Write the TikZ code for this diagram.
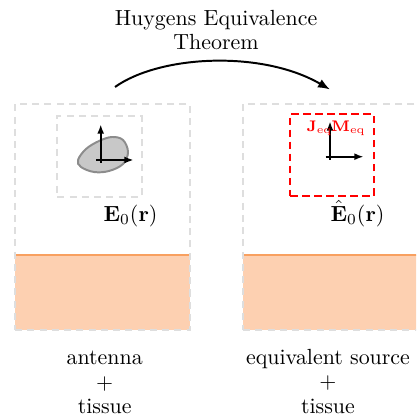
\documentclass[tikz,border=0pt]{standalone}
\usetikzlibrary{arrows.meta}
\definecolor{boxgray}{RGB}{222,222,222}
\definecolor{tissuefill}{RGB}{253,208,177}
\definecolor{tissueline}{RGB}{248,160,96}
\definecolor{blobfill}{RGB}{200,200,200}
\definecolor{blobline}{RGB}{140,140,140}
\begin{document}
\begin{tikzpicture}[x=0.4566pt,y=-0.4566pt,
  txt/.style={font=\fontsize{10}{11.3}\selectfont, inner sep=0pt, align=center},
  outerbox/.style={draw=boxgray, line width=0.9pt, dash pattern=on 3.2pt off 2.4pt, minimum width=79.9pt, minimum height=103.2pt, inner sep=0pt},
  tissue/.style={fill=tissuefill, minimum width=79.9pt, minimum height=34.2pt, inner sep=0pt},
  innerbox/.style={draw=boxgray, line width=0.9pt, dash pattern=on 3.2pt off 2.4pt, minimum width=38.5pt, minimum height=36.8pt, inner sep=0pt},
  eqbox/.style={draw=red, line width=0.9pt, dash pattern=on 3.5pt off 2pt, minimum width=38.4pt, minimum height=37.2pt, inner sep=0pt},
  axis/.style={line width=0.75pt, -{Latex[length=4.2pt,width=3.2pt]}},
  bigarrow/.style={line width=0.9pt, -{Latex[length=5.5pt,width=4.2pt]}},
  srclabel/.style={text=red, font=\scriptsize, inner sep=0pt}
]
\useasboundingbox (0,0) rectangle (416,417);
\clip (0,0) rectangle (416,417);

% title and transform arrow
\node[txt] (title) at (216,30) {Huygens Equivalence\\Theorem};
\coordinate (arrS) at (115,87);
\coordinate (arrE) at (330,89.5);
\draw[bigarrow] (arrS) .. controls (160,55) and (262,50) .. (arrE);

% left panel
\node[tissue] (tisL) at (102.5,292.5) {};
\draw[tissueline, line width=0.9pt] (tisL.north west) -- (tisL.north east);
\node[outerbox] (boxL) at (102.5,217) {};
\node[innerbox] (antbox) at (99.5,156.4) {};
\draw[fill=blobfill, draw=blobline, line width=0.9pt] plot[smooth cycle, tension=0.6] coordinates
  {(78,160) (86,149) (99,141) (112,137) (123,140) (128,152) (123,164) (109,171) (94,172) (81,167)};
\coordinate (oL) at (100.7,160);
\coordinate (vL) at (100.7,124.5);
\coordinate (hL) at (133.5,160);
\draw[axis] ([yshift=-1.3pt]oL) -- (vL);
\draw[axis] ([xshift=-2pt]oL) -- (hL);
\node[txt, anchor=base] (E0) at (130.5,221.5) {$\mathbf{E}_0(\mathbf{r})$};
\node[txt] (labL) at (104.7,382.5) {antenna\\$+$\\tissue};

% right panel
\node[tissue] (tisR) at (330.5,292.5) {};
\draw[tissueline, line width=0.9pt] (tisR.north west) -- (tisR.north east);
\node[outerbox] (boxR) at (330.5,217) {};
\node[eqbox] (eqbox) at (332,155) {};
\coordinate (oR) at (330,156.7);
\coordinate (vR) at (330,121.5);
\coordinate (hR) at (363.5,156.7);
\draw[axis] ([yshift=-1.5pt]oR) -- (vR);
\draw[axis] ([xshift=-2pt]oR) -- (hR);
\node[srclabel] (Jeq) at (319.5,128) {$\mathbf{J}_{\mathrm{eq}}$};
\node[srclabel] (Meq) at (348.5,128) {$\mathbf{M}_{\mathrm{eq}}$};
\node[txt, anchor=base] (E0hat) at (357.5,221.5) {$\hat{\mathbf{E}}_0(\mathbf{r})$};
\node[txt] (labR) at (328,381.5) {equivalent source\\$+$\\tissue};
\end{tikzpicture}
\end{document}
